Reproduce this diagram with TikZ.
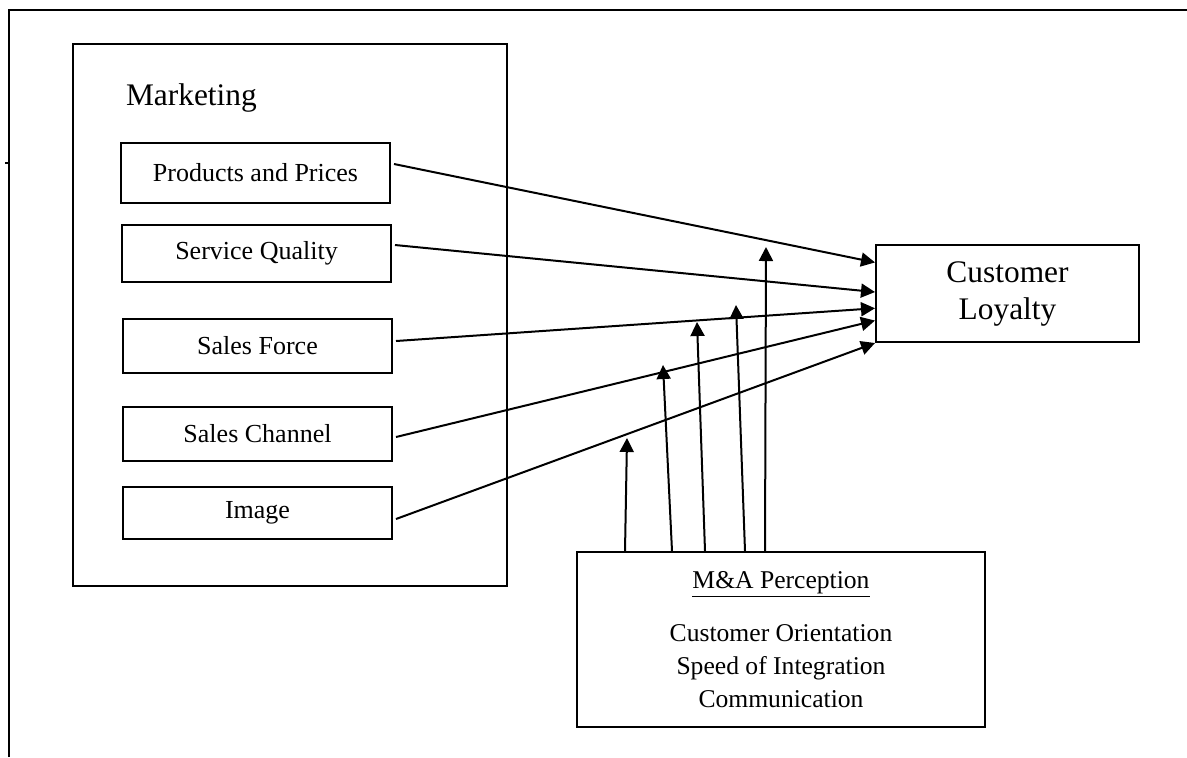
\documentclass[tikz,border=0pt]{standalone}
\usepackage{fontspec}
\setmainfont{Liberation Serif}
\usetikzlibrary{arrows.meta,calc}

\begin{document}
\begin{tikzpicture}[x=0.5pt,y=-0.5pt,line width=1pt,
  box/.style={draw,inner sep=0pt,minimum width=134.5pt,minimum height=#1,font=\fontsize{13}{16}\selectfont},box/.default=27pt,
  arr/.style={-{Triangle[length=7pt,width=7pt]}}]
  \useasboundingbox (0,0) rectangle (1187,757);
  \draw (9,757) -- (9,10) -- (1187,10);
  \draw (5,163) -- (9,163);
  \node[draw,minimum width=217pt,minimum height=271pt] (mkt) at (290,315) {};
  \node[anchor=west,inner sep=0pt,font=\fontsize{15.7}{19}\selectfont] (mlab) at (125,98) {Marketing};
  \node[box=30pt] (pp) at (255.5,173) {Products and Prices};
  \node[box=28.5pt] (sq) at (256.5,253.5) {Service Quality};
  \node[box] (sf) at (257.5,346) {Sales Force};
  \node[box] (sc) at (257.5,434) {Sales Channel};
  \node[box=26pt] (img) at (257.5,513) {Image};
  \node[draw,minimum width=131.5pt,minimum height=48.5pt,align=center,
        font=\fontsize{15.7}{18.5}\selectfont] (cl) at (1007.5,293.5) {Customer\\Loyalty};
  \node[draw,minimum width=204pt,minimum height=87.5pt,align=center,
        font=\fontsize{12.8}{16.5}\selectfont] (ma) at (781,639.5)
        {\underline{M\&A Perception}\\[10pt]Customer Orientation\\Speed of Integration\\Communication};
  % free ends of the upward arrows
  \coordinate (m1) at (627,438);
  \coordinate (m2) at (663,365);
  \coordinate (m3) at (697,322);
  \coordinate (m4) at (736,305);
  \coordinate (m5) at (766,247);
  \foreach \n/\dy/\f in {pp/4.5/0.186,sq/4.25/0.485,sf/2.5/0.649,sc/-1.5/0.773,img/-3/1}
    \draw[arr] ([shift={(1.5pt,\dy pt)}]\n.east) -- ($(cl.north west)!\f!(cl.south west)$);
  \foreach \bx/\m in {24.5/m1,48/m2,64.5/m3,84.5/m4,94.5/m5}
    \draw[arr] ([xshift=\bx pt]ma.north west) -- (\m);
\end{tikzpicture}
\end{document}
